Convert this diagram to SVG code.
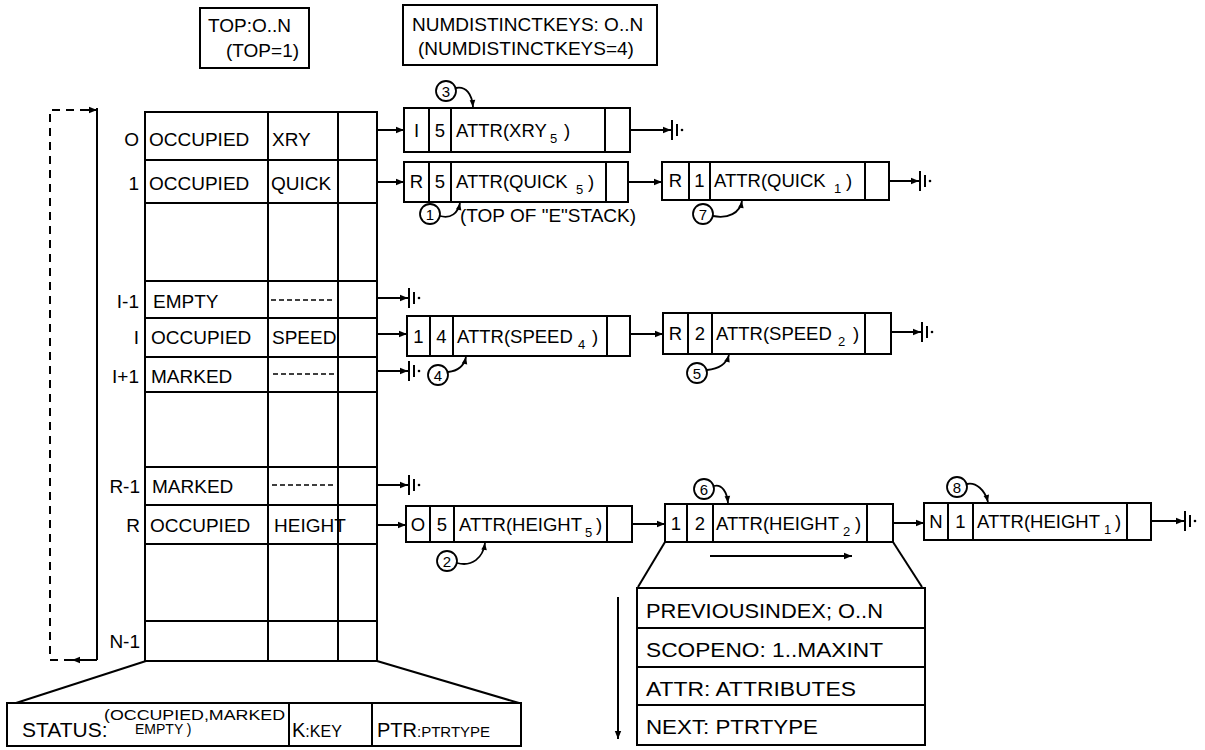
<svg xmlns="http://www.w3.org/2000/svg" xmlns:xlink="http://www.w3.org/1999/xlink" width="1205" height="750" viewBox="0 0 1205 750">
<style>
  .ln{stroke:#000;stroke-width:2;fill:none}
  .bx{stroke:#000;stroke-width:2;fill:none}
  .dash{stroke:#000;stroke-width:2;fill:none;stroke-dasharray:8,6}
  .thin{stroke:#000;stroke-width:1.6;fill:none;stroke-dasharray:5,3}
  text{font-family:"Liberation Sans",Arial,sans-serif;fill:#000}
  .t19{font-size:19px}
  .t18{font-size:18.5px}
  .sub{font-size:13px}
  .t14{font-size:14px}
  .t15{font-size:15px}
  .c{text-anchor:middle}
  .e{text-anchor:end}
  .arr{stroke:#000;stroke-width:2;fill:none;marker-end:url(#ah)}
  .carr{stroke:#000;stroke-width:1.8;fill:none;marker-end:url(#ahs)}
  .circ{stroke:#000;stroke-width:1.8;fill:#fff}
</style>
<defs>
  <marker id="ah" viewBox="0 0 10 10" refX="10" refY="5" markerWidth="11" markerHeight="8" markerUnits="userSpaceOnUse" orient="auto">
    <path d="M0,1 L10,5 L0,9 z" fill="#000"/>
  </marker>
  <marker id="ahs" viewBox="0 0 10 10" refX="10" refY="5" markerWidth="8" markerHeight="7" markerUnits="userSpaceOnUse" orient="auto">
    <path d="M0,1 L10,5 L0,9 z" fill="#000"/>
  </marker>
  <g id="gnd">
    <path d="M0,-10 V10 M5,-6 V6" stroke="#000" stroke-width="2" fill="none"/>
    <circle cx="10" cy="0" r="1.3" fill="#000"/>
  </g>
</defs>
<rect width="1205" height="750" fill="#fff"/>

<!-- TOP box -->
<g id="top-box">
  <rect class="bx" x="200" y="8" width="109" height="60"/>
  <text class="t19" x="208" y="32">TOP:O..N</text>
  <text class="t19" x="226" y="57">(TOP=1)</text>
</g>

<!-- NUMDISTINCTKEYS box -->
<g id="numkeys-box">
  <rect class="bx" x="403" y="5" width="254" height="60"/>
  <text class="t19" x="412" y="31">NUMDISTINCTKEYS: O..N</text>
  <text class="t19" x="418" y="55">(NUMDISTINCTKEYS=4)</text>
</g>

<!-- hash table -->
<g id="table">
  <rect class="bx" x="145" y="112" width="232" height="549"/>
  <path class="ln" d="M268,112 V661 M338,112 V661"/>
  <path class="ln" d="M145,160 H377 M145,203 H377 M145,281 H377 M145,318 H377 M145,357 H377 M145,392 H377 M145,467 H377 M145,505 H377 M145,544 H377 M145,621 H377"/>
  <g class="t19">
    <text class="e" x="139" y="146">O</text>
    <text x="149" y="146">OCCUPIED</text>
    <text x="272" y="146">XRY</text>

    <text class="e" x="139" y="190">1</text>
    <text x="149" y="190">OCCUPIED</text>
    <text x="271" y="190">QUICK</text>

    <text class="e" x="139" y="308">I-1</text>
    <text x="153" y="308">EMPTY</text>

    <text class="e" x="139" y="344">I</text>
    <text x="151" y="344">OCCUPIED</text>
    <text x="272" y="344">SPEED</text>

    <text class="e" x="139" y="383">I+1</text>
    <text x="151" y="383">MARKED</text>

    <text class="e" x="140" y="493">R-1</text>
    <text x="152" y="493">MARKED</text>

    <text class="e" x="140" y="532">R</text>
    <text x="150" y="532">OCCUPIED</text>
    <text x="274" y="532">HEIGHT</text>

    <text class="e" x="140" y="648">N-1</text>
  </g>
  <path class="thin" d="M271,300 H334 M273,374 H336 M272,485 H336"/>
</g>

<!-- left wraparound bar -->
<g id="wrap">
  <path class="ln" d="M97,108 V660"/>
  <path class="arr" d="M97,660 H72"/>
  <path class="dash" d="M72,660 H50 V110 H90"/>
  <path class="arr" d="M88,110 H97"/>
</g>

<!-- list nodes -->
<g id="node-xry5">
  <rect class="bx" x="404" y="108" width="226" height="44"/>
  <path class="ln" d="M429,108 V152 M451,108 V152 M605,108 V152"/>
  <text class="t18 c" x="416.5" y="137">I</text>
  <text class="t18 c" x="440" y="137">5</text>
  <text class="t18" x="456" y="137">ATTR(XRY</text>
  <text class="sub" x="550" y="143">5</text>
  <text class="t18" x="564" y="137">)</text>
</g>

<g id="node-quick5">
  <rect class="bx" x="404" y="162" width="224" height="40"/>
  <path class="ln" d="M429,162 V202 M451,162 V202 M606,162 V202"/>
  <text class="t18 c" x="416.5" y="188">R</text>
  <text class="t18 c" x="440" y="188">5</text>
  <text class="t18" x="456" y="188">ATTR(QUICK</text>
  <text class="sub" x="576" y="194">5</text>
  <text class="t18" x="588" y="188">)</text>
</g>

<g id="node-quick1">
  <rect class="bx" x="662" y="162" width="227" height="38"/>
  <path class="ln" d="M689,162 V200 M710,162 V200 M865,162 V200"/>
  <text class="t18 c" x="675.5" y="187">R</text>
  <text class="t18 c" x="699.5" y="187">1</text>
  <text class="t18" x="714" y="187">ATTR(QUICK</text>
  <text class="sub" x="834" y="193">1</text>
  <text class="t18" x="846" y="187">)</text>
</g>

<g id="node-speed4">
  <rect class="bx" x="407" y="316" width="223" height="40"/>
  <path class="ln" d="M430,316 V356 M453,316 V356 M607,316 V356"/>
  <text class="t18 c" x="418.5" y="343">1</text>
  <text class="t18 c" x="441.5" y="343">4</text>
  <text class="t18" x="457" y="343">ATTR(SPEED</text>
  <text class="sub" x="578" y="349">4</text>
  <text class="t18" x="592" y="343">)</text>
</g>

<g id="node-speed2">
  <rect class="bx" x="663" y="313" width="228" height="41"/>
  <path class="ln" d="M688,313 V354 M712,313 V354 M865,313 V354"/>
  <text class="t18 c" x="675.5" y="340">R</text>
  <text class="t18 c" x="700" y="340">2</text>
  <text class="t18" x="716" y="340">ATTR(SPEED</text>
  <text class="sub" x="838" y="346">2</text>
  <text class="t18" x="853" y="340">)</text>
</g>

<g id="node-height5">
  <rect class="bx" x="406" y="506" width="226" height="36"/>
  <path class="ln" d="M430,506 V542 M454,506 V542 M607,506 V542"/>
  <text class="t18 c" x="418" y="531">O</text>
  <text class="t18 c" x="442" y="531">5</text>
  <text class="t18" x="459" y="531">ATTR(HEIGHT</text>
  <text class="sub" x="585" y="537">5</text>
  <text class="t18" x="596" y="531">)</text>
</g>

<g id="node-height2">
  <rect class="bx" x="665" y="504" width="228" height="38"/>
  <path class="ln" d="M687,504 V542 M713,504 V542 M867,504 V542"/>
  <text class="t18 c" x="676" y="530">1</text>
  <text class="t18 c" x="700" y="530">2</text>
  <text class="t18" x="716" y="530">ATTR(HEIGHT</text>
  <text class="sub" x="843" y="536">2</text>
  <text class="t18" x="855" y="530">)</text>
</g>

<g id="node-height1">
  <rect class="bx" x="924" y="503" width="227" height="37"/>
  <path class="ln" d="M948,503 V540 M973,503 V540 M1127,503 V540"/>
  <text class="t18 c" x="936" y="528">N</text>
  <text class="t18 c" x="960.5" y="528">1</text>
  <text class="t18" x="977" y="528">ATTR(HEIGHT</text>
  <text class="sub" x="1104" y="534">1</text>
  <text class="t18" x="1115" y="528">)</text>
</g>

<!-- detail of a table entry -->
<g id="status-detail">
  <rect class="bx" x="7" y="703" width="514" height="43"/>
  <path class="ln" d="M289,703 V746 M372,703 V746"/>
  <text x="22" y="737" font-size="21px">STATUS:</text>
  <text class="t14" x="104" y="720" textLength="181" lengthAdjust="spacingAndGlyphs">(OCCUPIED,MARKED</text>
  <text class="t14" x="135" y="734">EMPTY )</text>
  <text x="292" y="737"><tspan font-size="20px">K</tspan><tspan font-size="16px">:KEY</tspan></text>
  <text x="377" y="737"><tspan font-size="20px">PTR</tspan><tspan font-size="15px">:PTRTYPE</tspan></text>
</g>

<!-- detail of a list node -->
<g id="entry-detail">
  <rect class="bx" x="637" y="588" width="288" height="157"/>
  <path class="ln" d="M637,628 H925 M637,667 H925 M637,705 H925"/>
  <text x="646" y="618" font-size="20px" textLength="237" lengthAdjust="spacingAndGlyphs">PREVIOUSINDEX; O..N</text>
  <text x="646" y="657" font-size="20px" textLength="237" lengthAdjust="spacingAndGlyphs">SCOPENO: 1..MAXINT</text>
  <text x="646" y="696" font-size="20px" textLength="210" lengthAdjust="spacingAndGlyphs">ATTR: ATTRIBUTES</text>
  <text x="646" y="734" font-size="20px" textLength="172" lengthAdjust="spacingAndGlyphs">NEXT: PTRTYPE</text>
</g>

<!-- numbered step markers -->
<g id="step-1"><circle class="circ" cx="430" cy="214" r="10"/><text class="t15 c" x="430" y="219.5">1</text><text class="t19" x="460" y="222">(TOP OF "E"STACK)</text></g>
<g id="step-2"><circle class="circ" cx="447" cy="561" r="10"/><text class="t15 c" x="447" y="566.5">2</text></g>
<g id="step-3"><circle class="circ" cx="446" cy="91" r="10"/><text class="t15 c" x="446" y="96.5">3</text></g>
<g id="step-4"><circle class="circ" cx="438" cy="375" r="10"/><text class="t15 c" x="438" y="380.5">4</text></g>
<g id="step-5"><circle class="circ" cx="697" cy="373" r="10"/><text class="t15 c" x="697" y="378.5">5</text></g>
<g id="step-6"><circle class="circ" cx="704" cy="489" r="10"/><text class="t15 c" x="704" y="494.5">6</text></g>
<g id="step-7"><circle class="circ" cx="703" cy="214" r="10"/><text class="t15 c" x="703" y="219.5">7</text></g>
<g id="step-8"><circle class="circ" cx="957" cy="487" r="10"/><text class="t15 c" x="957" y="492.5">8</text></g>

<!-- connectors -->
<g id="connectors">
  <!-- table pointers -->
  <path class="arr" d="M377,130 H404"/>
  <path class="arr" d="M377,182 H404"/>
  <path class="arr" d="M377,298 H408"/>
  <path class="arr" d="M377,334 H407"/>
  <path class="arr" d="M377,371 H408"/>
  <path class="arr" d="M377,485 H408"/>
  <path class="arr" d="M377,525 H406"/>
  <!-- node links -->
  <path class="arr" d="M630,130 H671"/>
  <path class="arr" d="M628,182 H662"/>
  <path class="arr" d="M889,181 H919"/>
  <path class="arr" d="M630,334 H663"/>
  <path class="arr" d="M891,332 H921"/>
  <path class="arr" d="M632,524 H665"/>
  <path class="arr" d="M893,523 H924"/>
  <path class="arr" d="M1151,521 H1184"/>
  <!-- nil symbols -->
  <use xlink:href="#gnd" x="672" y="130"/>
  <use xlink:href="#gnd" x="920" y="181"/>
  <use xlink:href="#gnd" x="409" y="298"/>
  <use xlink:href="#gnd" x="409" y="371"/>
  <use xlink:href="#gnd" x="922" y="332"/>
  <use xlink:href="#gnd" x="409" y="485"/>
  <use xlink:href="#gnd" x="1185" y="521"/>
  <!-- expansion lines -->
  <path class="ln" d="M146,661 L16,703"/>
  <path class="ln" d="M377,661 L519,703"/>
  <path class="ln" d="M665,542 L638,587"/>
  <path class="ln" d="M893,542 L922,587"/>
  <path class="arr" d="M710,556 H852"/>
  <path class="arr" d="M618,597 V739"/>
  <!-- step pointers -->
  <path class="carr" d="M440,216 C451,219 458,213 460,203"/>
  <path class="carr" d="M457,563 C472,567 483,558 485,543"/>
  <path class="carr" d="M456,88 C466,86 472,94 473,107"/>
  <path class="carr" d="M448,372 C458,371 464,366 466,357"/>
  <path class="carr" d="M707,370 C718,369 726,365 729,355"/>
  <path class="carr" d="M714,486 C722,484 727,492 728,503"/>
  <path class="carr" d="M713,216 C728,219 740,213 742,201"/>
  <path class="carr" d="M967,484 C976,482 985,490 988,502"/>
</g>
</svg>
